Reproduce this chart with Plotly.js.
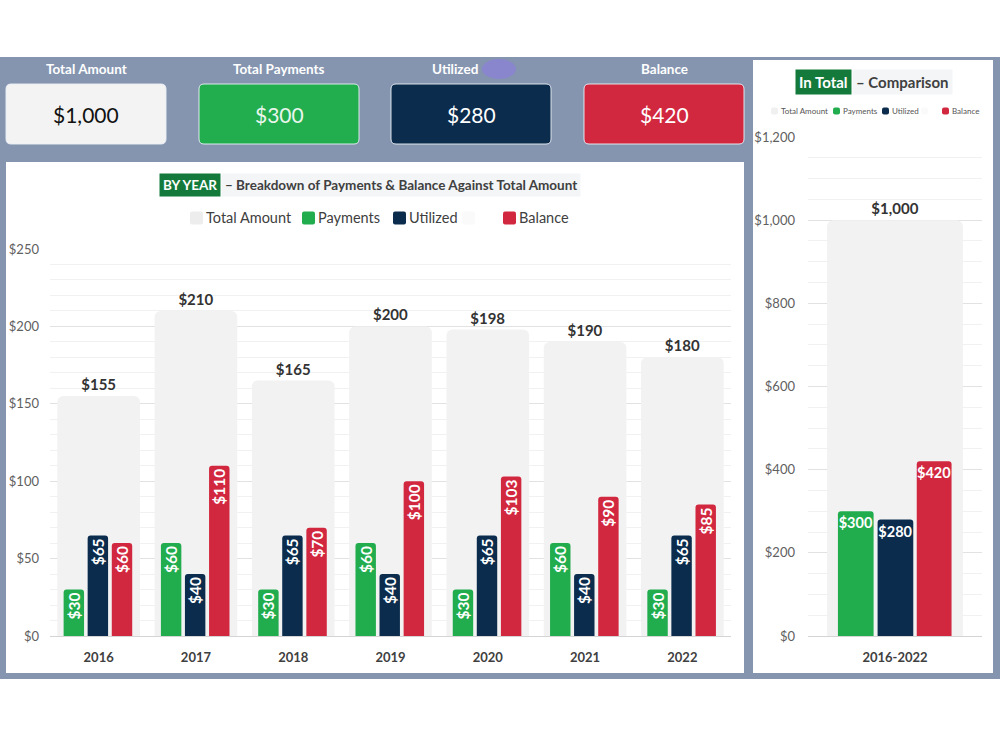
<!DOCTYPE html>
<html>
<head>
<meta charset="utf-8">
<script src="https://cdn.plot.ly/plotly-3.0.1.min.js"></script>
<style>
  html, body { margin: 0; padding: 0; background: #ffffff; }
  #chart { width: 1000px; height: 750px; }
</style>
</head>
<body>
<div id="chart"></div>
<script>
// ---- data ----
const years = ['2016', '2017', '2018', '2019', '2020', '2021', '2022'];
const totalAmount = [155, 210, 165, 200, 198, 190, 180];
const payments = [30, 60, 30, 60, 30, 60, 30];
const utilized = [65, 40, 65, 40, 65, 40, 65];
const balance = [60, 110, 70, 100, 103, 90, 85];

const periodLabel = ['2016-2022'];
const periodTotal = [1000];
const periodPayments = [300];
const periodUtilized = [280];
const periodBalance = [420];

const seriesNames = ['Total Amount', 'Payments', 'Utilized', 'Balance'];
const kpiLabels = ['Total Amount', 'Total Payments', 'Utilized', 'Balance'];
const kpiValues = [1000, 300, 280, 420];

// ---- styling ----
const FONT = 'Lato, Noto Sans, sans-serif';
const COLORS = ['#f2f2f2', '#21ad4e', '#0b2c4d', '#d2283f'];
const FRAME = '#8595b0';

// pixel -> paper helpers (margins are zero, so paper spans the page)
const px = v => v / 1000;
const py = v => 1 - v / 750;
const money = v => '$' + v.toLocaleString('en-US');

function roundRect(x0, y0, x1, y1, r) {
  const X0 = px(x0), X1 = px(x1), Y0 = py(y0), Y1 = py(y1);
  const rx = r / 1000, ry = r / 750;
  return `M${X0 + rx},${Y0} L${X1 - rx},${Y0} Q${X1},${Y0} ${X1},${Y0 - ry} ` +
         `L${X1},${Y1 + ry} Q${X1},${Y1} ${X1 - rx},${Y1} L${X0 + rx},${Y1} ` +
         `Q${X0},${Y1} ${X0},${Y1 + ry} L${X0},${Y0 - ry} Q${X0},${Y0} ${X0 + rx},${Y0} Z`;
}

// ---- traces: yearly breakdown ----
const yearOffsets = [-0.425, -0.36, -0.113, 0.135];
const yearWidths = [0.85, 0.21, 0.21, 0.21];
const yearSeries = [totalAmount, payments, utilized, balance];

const traces = [];
yearSeries.forEach((vals, i) => {
  const isTotal = i === 0;
  traces.push({
    type: 'bar', name: seriesNames[i], x: years, y: vals,
    xaxis: 'x', yaxis: 'y',
    width: yearWidths[i], offset: yearOffsets[i],
    marker: { color: COLORS[i], line: { width: 0 }, cornerradius: isTotal ? 6 : 3 },
    text: vals.map(money),
    textposition: isTotal ? 'outside' : 'inside',
    insidetextanchor: 'end',
    textangle: isTotal ? 0 : -90,
    constraintext: 'none',
    cliponaxis: false,
    textfont: isTotal
      ? { family: FONT, size: 15, color: '#333333', weight: 'bold' }
      : { family: FONT, size: 15.5, color: '#ffffff', weight: 'bold' },
    hoverinfo: 'skip', showlegend: false
  });
});

// ---- traces: whole period ----
const periodOffsets = [-0.39, -0.328, -0.1, 0.125];
const periodWidths = [0.78, 0.205, 0.205, 0.2];
const periodSeries = [periodTotal, periodPayments, periodUtilized, periodBalance];

periodSeries.forEach((vals, i) => {
  const isTotal = i === 0;
  traces.push({
    type: 'bar', name: seriesNames[i], x: periodLabel, y: vals,
    xaxis: 'x2', yaxis: 'y2',
    width: periodWidths[i], offset: periodOffsets[i],
    marker: { color: COLORS[i], line: { width: 0 }, cornerradius: isTotal ? 6 : 3 },
    text: vals.map(money),
    textposition: isTotal ? 'outside' : 'inside',
    insidetextanchor: 'end',
    textangle: 0,
    constraintext: 'none',
    cliponaxis: false,
    textfont: isTotal
      ? { family: FONT, size: 15, color: '#333333', weight: 'bold' }
      : { family: FONT, size: 14.5, color: '#ffffff', weight: 'bold' },
    hoverinfo: 'skip', showlegend: false
  });
});

// ---- background frame, panels and KPI cards ----
const shapes = [
  { type: 'rect', xref: 'paper', yref: 'paper', x0: px(0), x1: px(1000), y0: py(57), y1: py(679),
    fillcolor: FRAME, line: { width: 0 }, layer: 'below' },
  { type: 'rect', xref: 'paper', yref: 'paper', x0: px(6), x1: px(744), y0: py(162), y1: py(673),
    fillcolor: '#ffffff', line: { width: 0 }, layer: 'below' },
  { type: 'rect', xref: 'paper', yref: 'paper', x0: px(753), x1: px(993), y0: py(60), y1: py(673),
    fillcolor: '#ffffff', line: { width: 0 }, layer: 'below' },
  // soft purple blot next to the "Utilized" heading
  { type: 'circle', xref: 'paper', yref: 'paper', x0: px(482), x1: px(516), y0: py(59), y1: py(79),
    fillcolor: 'rgba(138,132,210,0.85)', line: { width: 0 }, layer: 'below' }
];

const cardX = [[6, 166], [199, 359], [391, 551], [584, 744]];
const labelX = [86, 279, 455, 664];
const cardFill = ['#f3f3f3', '#22ae4f', '#0b2c4d', '#d2283f'];
const cardText = ['#111111', '#e9f6ec', '#ffffff', '#ffffff'];
const annotations = [];

cardX.forEach(([a, b], i) => {
  shapes.push({ type: 'path', xref: 'paper', yref: 'paper', path: roundRect(a, 84, b, 144, 5),
    fillcolor: cardFill[i], line: { color: 'rgba(235,240,246,0.9)', width: 1 }, layer: 'below' });
  annotations.push({ xref: 'paper', yref: 'paper', x: px(labelX[i]), y: py(69),
    text: kpiLabels[i], showarrow: false, xanchor: 'center', yanchor: 'middle',
    font: { family: FONT, size: 13.5, color: '#ffffff', weight: 'bold' } });
  annotations.push({ xref: 'paper', yref: 'paper', x: px((a + b) / 2), y: py(114),
    text: money(kpiValues[i]), showarrow: false, xanchor: 'center', yanchor: 'middle',
    font: { family: FONT, size: 21, color: cardText[i] } });
});

// ---- chart titles ----
annotations.push(
  { xref: 'paper', yref: 'paper', x: px(221), y: py(185), xanchor: 'right', yanchor: 'middle',
    text: 'BY YEAR', showarrow: false, bgcolor: '#147a3c', borderpad: 3,
    font: { family: FONT, size: 13.5, color: '#ffffff', weight: 'bold' } },
  { xref: 'paper', yref: 'paper', x: px(221), y: py(185), xanchor: 'left', yanchor: 'middle',
    text: '– Breakdown of Payments &amp; Balance Against Total Amount', showarrow: false,
    bgcolor: '#f3f5f7', borderpad: 3,
    font: { family: FONT, size: 13.5, color: '#404040', weight: 'bold' } },
  { xref: 'paper', yref: 'paper', x: px(852), y: py(82), xanchor: 'right', yanchor: 'middle',
    text: 'In Total', showarrow: false, bgcolor: '#147a3c', borderpad: 3,
    font: { family: FONT, size: 15, color: '#ffffff', weight: 'bold' } },
  { xref: 'paper', yref: 'paper', x: px(852), y: py(82), xanchor: 'left', yanchor: 'middle',
    text: '– Comparison', showarrow: false, bgcolor: '#f3f5f7', borderpad: 3,
    font: { family: FONT, size: 15, color: '#404040', weight: 'bold' } }
);

// ---- legends (one row per panel) ----
function addLegend(items, yc, size, fontSize, textColor) {
  items.forEach(it => {
    shapes.push({ type: 'path', xref: 'paper', yref: 'paper',
      path: roundRect(it.x, yc - size / 2, it.x + size, yc + size / 2, 2),
      fillcolor: it.color, line: { width: 0 }, layer: 'above' });
    if (it.label) {
      annotations.push({ xref: 'paper', yref: 'paper', x: px(it.x + size + 1), y: py(yc),
        xanchor: 'left', yanchor: 'middle', text: it.label, showarrow: false,
        font: { family: FONT, size: fontSize, color: textColor } });
    }
  });
}
addLegend([
  { x: 190, color: '#ededed', label: seriesNames[0] },
  { x: 302, color: COLORS[1], label: seriesNames[1] },
  { x: 393, color: COLORS[2], label: seriesNames[2] },
  { x: 462, color: '#fafafa', label: '' },
  { x: 503, color: COLORS[3], label: seriesNames[3] }
], 218, 13, 14.5, '#404040');
addLegend([
  { x: 771, color: '#f0f0f0', label: seriesNames[0] },
  { x: 833, color: COLORS[1], label: seriesNames[1] },
  { x: 882, color: COLORS[2], label: seriesNames[2] },
  { x: 921, color: '#fafafa', label: '' },
  { x: 942, color: COLORS[3], label: seriesNames[3] }
], 111, 7, 8, '#555555');

// ---- layout ----
const tickFont = { family: FONT, size: 13, color: '#606060' };
const catFont = { family: FONT, size: 13, color: '#404040', weight: 'bold' };

const layout = {
  width: 1000, height: 750,
  margin: { l: 0, r: 0, t: 0, b: 0, pad: 0 },
  paper_bgcolor: '#ffffff', plot_bgcolor: 'rgba(0,0,0,0)',
  barmode: 'overlay', showlegend: false,
  font: { family: FONT },
  xaxis: {
    domain: [px(50), px(731)], anchor: 'y', type: 'category',
    range: [-0.5, 6.5], showgrid: false, showline: false, zeroline: false,
    ticks: '', tickfont: catFont, ticklabelstandoff: 12, fixedrange: true
  },
  yaxis: {
    domain: [py(636), py(249)], anchor: 'x', range: [0, 250], dtick: 50,
    tickprefix: '$', tickfont: tickFont, ticks: '', ticklabelstandoff: 10,
    showgrid: true, gridcolor: '#e2e2e2', gridwidth: 1,
    minor: { dtick: 10, showgrid: true, gridcolor: '#f1f1f1', gridwidth: 1 },
    zeroline: true, zerolinecolor: '#d4d4d4', zerolinewidth: 1,
    showline: false, fixedrange: true
  },
  xaxis2: {
    domain: [px(808), px(982)], anchor: 'y2', type: 'category',
    range: [-0.5, 0.5], showgrid: false, showline: false, zeroline: false,
    ticks: '', tickfont: catFont, ticklabelstandoff: 12, fixedrange: true
  },
  yaxis2: {
    domain: [py(636), py(137)], anchor: 'x2', range: [0, 1200], dtick: 200,
    tickprefix: '$', tickformat: ',d', tickfont: tickFont, ticks: '', ticklabelstandoff: 12,
    showgrid: true, gridcolor: '#e2e2e2', gridwidth: 1,
    minor: { dtick: 50, showgrid: true, gridcolor: '#f1f1f1', gridwidth: 1 },
    zeroline: true, zerolinecolor: '#d4d4d4', zerolinewidth: 1,
    showline: false, fixedrange: true
  },
  shapes: shapes,
  annotations: annotations
};

Plotly.newPlot('chart', traces, layout, { displayModeBar: false, staticPlot: true });
</script>
</body>
</html>
